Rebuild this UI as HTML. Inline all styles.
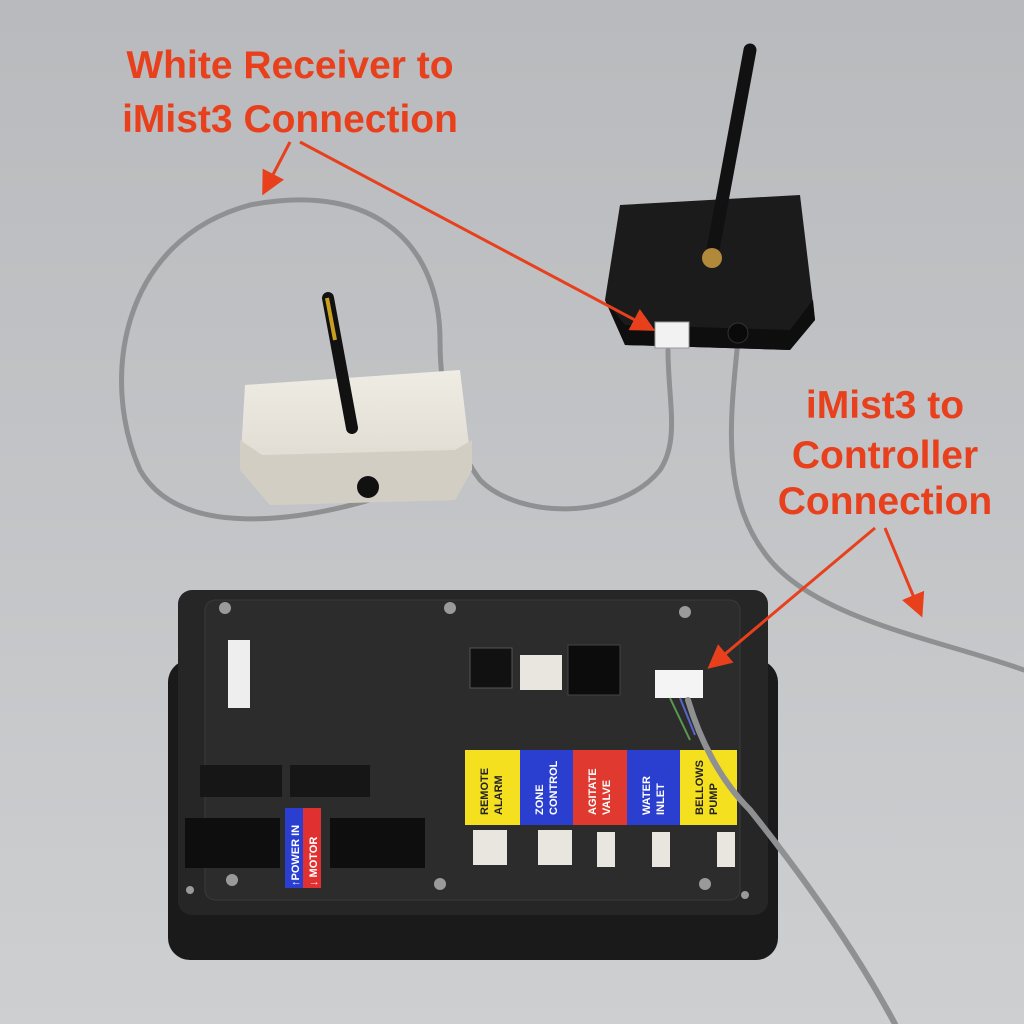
<!DOCTYPE html>
<html><head><meta charset="utf-8"><style>
html,body{margin:0;padding:0;background:#c3c5c7;}
svg{display:block}
text{font-family:"Liberation Sans",sans-serif;}
</style></head><body>
<svg width="1024" height="1024" viewBox="0 0 1024 1024" xmlns="http://www.w3.org/2000/svg">
<defs>
<linearGradient id="bg" x1="0" y1="0" x2="0" y2="1">
<stop offset="0" stop-color="#b8babd"/><stop offset="1" stop-color="#cdcfd1"/>
</linearGradient>
<linearGradient id="wb" x1="0" y1="0" x2="0" y2="1">
<stop offset="0" stop-color="#efece4"/><stop offset="1" stop-color="#d9d5cb"/>
</linearGradient>
<marker id="ah" markerWidth="8" markerHeight="8" refX="6" refY="4" orient="auto" markerUnits="strokeWidth">
<path d="M0,0 L8,4 L0,8 z" fill="#e8401c"/></marker>
</defs>
<rect width="1024" height="1024" fill="url(#bg)"/>

<!-- cables -->
<g fill="none" stroke="#8e9092" stroke-width="5" stroke-linecap="round">
<path d="M370,500 C300,520 180,540 140,470 C100,380 120,240 250,205 C380,180 440,250 440,340 C440,390 450,440 480,480 C520,520 620,520 660,470 C680,440 668,400 668,350"/>
<path d="M738,340 C730,420 720,500 770,560 C820,620 940,640 1024,670"/>
</g>

<!-- iMist3 black box -->
<path d="M620,205 L800,195 L815,320 L790,350 L625,345 L605,300 Z" fill="#1b1b1c"/>
<path d="M605,300 L625,345 L790,350 L815,320 L813,300 L790,330 L625,325 Z" fill="#0e0e0f"/>
<line x1="712" y1="255" x2="750" y2="50" stroke="#111" stroke-width="13" stroke-linecap="round"/>
<circle cx="712" cy="258" r="10" fill="#b08a3a"/>
<rect x="655" y="322" width="34" height="26" fill="#f2f2f2" stroke="#999"/>
<circle cx="738" cy="333" r="10" fill="#0a0a0a" stroke="#333"/>

<!-- white receiver -->
<path d="M245,385 L460,370 L472,470 L455,500 L270,505 L240,470 Z" fill="url(#wb)"/>
<path d="M240,440 L262,455 L455,450 L472,440 L472,470 L455,500 L270,505 L240,470Z" fill="#d2cec4"/>
<line x1="352" y1="428" x2="328" y2="298" stroke="#111" stroke-width="12" stroke-linecap="round"/>
<line x1="335" y1="340" x2="327" y2="298" stroke="#c8a020" stroke-width="4"/>
<circle cx="368" cy="487" r="11" fill="#111"/>

<!-- controller -->
<rect x="168" y="660" width="610" height="300" rx="22" fill="#1a1a1b"/>
<rect x="178" y="590" width="590" height="325" rx="14" fill="#262627"/>
<rect x="205" y="600" width="535" height="300" rx="10" fill="#2c2c2d" stroke="#3a3a3b"/>
<g fill="#9a9a9a">
<circle cx="225" cy="608" r="6"/><circle cx="450" cy="608" r="6"/><circle cx="685" cy="612" r="6"/>
<circle cx="232" cy="880" r="6"/><circle cx="440" cy="884" r="6"/><circle cx="705" cy="884" r="6"/>
<circle cx="190" cy="890" r="4"/><circle cx="745" cy="895" r="4"/>
</g>
<rect x="228" y="640" width="22" height="68" fill="#eee"/>
<rect x="470" y="648" width="42" height="40" fill="#111" stroke="#555"/>
<rect x="520" y="655" width="42" height="35" fill="#e8e6df"/>
<rect x="568" y="645" width="52" height="50" fill="#0c0c0c" stroke="#444"/>
<rect x="655" y="670" width="48" height="28" fill="#f4f4f4"/>
<rect x="200" y="765" width="82" height="32" fill="#161616"/>
<rect x="290" y="765" width="80" height="32" fill="#161616"/>
<rect x="185" y="818" width="95" height="50" fill="#0e0e0e"/>
<rect x="330" y="818" width="95" height="50" fill="#0e0e0e"/>
<rect x="285" y="808" width="18" height="80" fill="#2a3fd0"/>
<rect x="303" y="808" width="18" height="80" fill="#e03030"/>
<text transform="translate(299,886) rotate(-90)" font-size="11" font-weight="bold" fill="#fff">↑POWER IN</text>
<text transform="translate(317,886) rotate(-90)" font-size="11" font-weight="bold" fill="#fff">↓ MOTOR</text>

<rect x="465" y="750" width="55" height="75" fill="#f5e020"/>
<rect x="520" y="750" width="53" height="75" fill="#2a3fd0"/>
<rect x="573" y="750" width="54" height="75" fill="#e03a30"/>
<rect x="627" y="750" width="53" height="75" fill="#2a3fd0"/>
<rect x="680" y="750" width="57" height="75" fill="#f5e020"/>
<g font-size="11" font-weight="bold">
<text transform="translate(488,815) rotate(-90)" fill="#222">REMOTE</text>
<text transform="translate(502,815) rotate(-90)" fill="#222">ALARM</text>
<text transform="translate(543,815) rotate(-90)" fill="#fff">ZONE</text>
<text transform="translate(557,815) rotate(-90)" fill="#fff">CONTROL</text>
<text transform="translate(596,815) rotate(-90)" fill="#fff">AGITATE</text>
<text transform="translate(610,815) rotate(-90)" fill="#fff">VALVE</text>
<text transform="translate(650,815) rotate(-90)" fill="#fff">WATER</text>
<text transform="translate(664,815) rotate(-90)" fill="#fff">INLET</text>
<text transform="translate(703,815) rotate(-90)" fill="#222">BELLOWS</text>
<text transform="translate(717,815) rotate(-90)" fill="#222">PUMP</text>
</g>
<g fill="#e8e6df">
<rect x="473" y="830" width="34" height="35"/><rect x="538" y="830" width="34" height="35"/>
<rect x="597" y="832" width="18" height="35"/><rect x="652" y="832" width="18" height="35"/><rect x="717" y="832" width="18" height="35"/>
</g>
<!-- cable over controller -->
<path d="M688,700 C700,740 720,780 750,810 C790,860 850,940 895,1024" fill="none" stroke="#8e9092" stroke-width="6" stroke-linecap="round"/>
<path d="M670,698 L690,740" stroke="#5a9a50" stroke-width="2"/>
<path d="M680,698 L695,735" stroke="#5566cc" stroke-width="2"/>

<!-- labels -->
<g font-size="39" font-weight="bold" fill="#e8401c" text-anchor="middle">
<text x="290" y="78">White Receiver to</text>
<text x="290" y="132">iMist3 Connection</text>
<text x="885" y="418">iMist3 to</text>
<text x="885" y="468">Controller</text>
<text x="885" y="514">Connection</text>
</g>
<g stroke="#e8401c" stroke-width="3" fill="none" marker-end="url(#ah)">
<line x1="290" y1="142" x2="265" y2="190"/>
<line x1="300" y1="142" x2="650" y2="328"/>
<line x1="875" y1="528" x2="712" y2="665"/>
<line x1="885" y1="528" x2="920" y2="612"/>
</g>
</svg>
</body></html>
